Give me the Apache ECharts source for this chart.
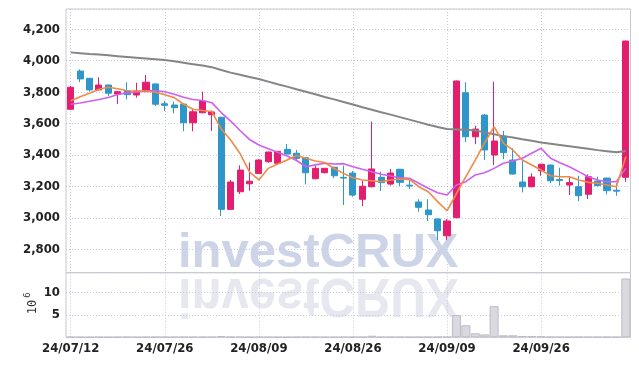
<!DOCTYPE html>
<html><head><meta charset="utf-8">
<script src="https://cdn.jsdelivr.net/npm/echarts@6/dist/echarts.min.js"></script>
<style>html,body{margin:0;padding:0;background:#fff}#c{width:639px;height:366px}</style>
</head><body><div id="c"></div>
<script>
const dates = ['24/07/12','24/07/15','24/07/16','24/07/17','24/07/18','24/07/19','24/07/22','24/07/23','24/07/24','24/07/25',
'24/07/26','24/07/29','24/07/30','24/07/31','24/08/01','24/08/02','24/08/05','24/08/06','24/08/07','24/08/08',
'24/08/09','24/08/12','24/08/13','24/08/14','24/08/16','24/08/19','24/08/20','24/08/21','24/08/22','24/08/23',
'24/08/26','24/08/27','24/08/28','24/08/29','24/08/30','24/09/02','24/09/03','24/09/04','24/09/05','24/09/06',
'24/09/09','24/09/10','24/09/11','24/09/12','24/09/13','24/09/19','24/09/20','24/09/23','24/09/24','24/09/25',
'24/09/26','24/09/27','24/09/30','24/10/02','24/10/04','24/10/07','24/10/08','24/10/10','24/10/11','24/10/14'];
const opens  = [3691,3934,3888,3814,3845,3788,3809,3782,3803,3852,3726,3718,3724,3605,3669,3656,3640,3054,3166,3217,
3283,3357,3347,3436,3411,3383,3249,3287,3322,3257,3285,3118,3198,3258,3215,3309,3208,3101,3050,2993,
2886,3001,3796,3516,3654,3400,3521,3368,3228,3198,3300,3336,3244,3209,3198,3150,3234,3253,3176,3258];
const closes = [3831,3884,3814,3845,3793,3803,3784,3807,3863,3723,3716,3701,3605,3675,3744,3674,3054,3228,3304,3233,
3368,3419,3423,3406,3379,3287,3315,3315,3268,3253,3145,3201,3311,3224,3285,3226,3203,3067,3020,2918,
2980,3871,3516,3565,3432,3489,3415,3279,3198,3260,3341,3236,3238,3224,3141,3262,3205,3173,3170,4125];
const lows   = [3688,3863,3803,3812,3775,3724,3754,3765,3800,3712,3680,3665,3551,3551,3666,3553,3012,3052,3152,3173,
3280,3351,3345,3404,3368,3213,3245,3284,3252,3082,3134,3075,3194,3171,3205,3203,3184,3039,2980,2859,
2859,2998,3481,3470,3368,3336,3374,3275,3162,3195,3268,3220,3205,3145,3107,3120,3200,3150,3141,3230];
const highs  = [3839,3945,3890,3894,3847,3806,3863,3860,3909,3855,3745,3739,3727,3691,3803,3682,3643,3241,3334,3353,
3372,3422,3426,3470,3432,3388,3330,3318,3325,3332,3298,3236,3612,3294,3311,3312,3252,3118,3118,2996,
2993,3874,3863,3586,3661,3866,3553,3443,3368,3283,3344,3339,3319,3262,3268,3277,3262,3256,3220,4128];
const volumes = [0.06,0.05,0.05,0.06,0.05,0.05,0.06,0.05,0.06,0.07,0.06,0.06,0.08,0.07,0.06,0.07,0.25,0.1,0.08,0.07,
0.06,0.06,0.05,0.05,0.06,0.07,0.06,0.05,0.05,0.06,0.07,0.06,0.35,0.08,0.06,0.06,0.05,0.07,0.08,0.1,
0.1,5.0,2.7,0.9,0.65,7.0,0.45,0.45,0.3,0.3,0.25,0.1,0.08,0.07,0.08,0.07,0.06,0.07,0.06,13.2];
const ma5 = [3745,3771,3793,3818,3831,3822,3809,3807,3807,3799,3784,3765,3723,3691,3683,3677,3565,3495,3409,3292,
3241,3315,3343,3368,3397,3379,3362,3352,3314,3283,3255,3241,3236,3230,3241,3247,3245,3198,3166,3103,
3045,3155,3262,3368,3478,3580,3474,3432,3368,3336,3304,3268,3262,3262,3241,3226,3220,3209,3198,3389];
const ma10 = [3723,3731,3742,3753,3766,3785,3794,3801,3807,3810,3802,3786,3767,3753,3747,3733,3670,3616,3556,3499,
3464,3440,3417,3393,3365,3325,3337,3347,3343,3345,3325,3309,3294,3277,3266,3255,3252,3220,3188,3160,
3145,3209,3230,3273,3287,3315,3347,3362,3379,3411,3443,3379,3351,3325,3294,3262,3241,3230,3230,3315];
const maLong = [4053,4048,4043,4039,4034,4029,4024,4019,4014,4009,4004,3996,3987,3978,3969,3959,3941,3924,3910,3896,
3884,3867,3850,3835,3818,3802,3786,3769,3754,3737,3721,3704,3688,3672,3657,3641,3625,3609,3593,3578,
3565,3563,3561,3556,3544,3532,3520,3511,3500,3490,3480,3472,3464,3456,3448,3440,3431,3424,3417,3425];
const volumeUnit = ['10', '6'];
const watermark = 'investCRUX';

const candleData = opens.map((o, i) => [o, closes[i], lows[i], highs[i]]);

const FONT = '"DejaVu Sans Condensed", "DejaVu Sans", sans-serif';
const gridLine = { show: true, lineStyle: { color: '#c6cadf', width: 1, type: [1, 2] } };
const labelStyle = { color: '#222', fontFamily: FONT, fontSize: 13, fontWeight: 'bold' };
const UP = '#e31e6e', DOWN = '#2e96c9';

const chart = echarts.init(document.getElementById('c'), null, { renderer: 'canvas' });
chart.setOption({
  animation: false,
  backgroundColor: '#fff',
  grid: [
    { left: 66, right: 8.5, top: 9, height: 263.7, show: true, borderColor: '#c8c8ce', borderWidth: 1 },
    { left: 66, right: 8.5, top: 272.7, height: 64.6, show: true, borderColor: '#c8c8ce', borderWidth: 1 }
  ],
  xAxis: [
    { type: 'category', gridIndex: 0, data: dates, boundaryGap: true,
      axisLine: { show: false }, axisTick: { show: false }, axisLabel: { show: false },
      splitLine: Object.assign({ interval: 9, alignWithLabel: true }, gridLine) },
    { type: 'category', gridIndex: 1, data: dates, boundaryGap: true,
      axisLine: { show: false }, axisTick: { show: false },
      axisLabel: Object.assign({ interval: 9, margin: 5 }, labelStyle),
      splitLine: Object.assign({ interval: 9, alignWithLabel: true }, gridLine) }
  ],
  yAxis: [
    { type: 'value', gridIndex: 0, min: 2651, max: 4329, splitNumber: 8, minInterval: 200, maxInterval: 200,
      axisLine: { show: false }, axisTick: { show: false },
      axisLabel: Object.assign({ showMinLabel: false, showMaxLabel: false, margin: 6,
        formatter: v => v.toLocaleString('en-US') }, labelStyle),
      splitLine: gridLine },
    { type: 'value', gridIndex: 1, min: 0, max: 14.5, interval: 5,
      axisLine: { show: false }, axisTick: { show: false },
      axisLabel: Object.assign({ showMinLabel: false, showMaxLabel: false, margin: 6 }, labelStyle),
      splitLine: gridLine }
  ],
  graphic: [
    { type: 'text', x: 178, y: 272, z: -5, silent: true,
      style: { text: watermark, x: 0, y: -18.5, textVerticalAlign: 'middle', textAlign: 'left',
        font: 'bold 49px "Liberation Sans", Arial, sans-serif', fill: '#cdd4e8' } },
    { type: 'text', x: 178, y: 272.8, scaleY: -1.15, z: -5, silent: true,
      style: { text: watermark, x: 0, y: -18.5, textVerticalAlign: 'middle', textAlign: 'left',
        font: 'bold 49px "Liberation Sans", Arial, sans-serif', fill: '#e6e7ef' } },
    { type: 'text', x: 32.5, y: 307, rotation: Math.PI / 2, silent: true,
      style: { text: volumeUnit[0], x: 0, y: 0, textAlign: 'center', textVerticalAlign: 'middle',
        font: '12px "DejaVu Sans Mono", monospace', fill: '#333' } },
    { type: 'text', x: 27.5, y: 295, rotation: Math.PI / 2, silent: true,
      style: { text: volumeUnit[1], x: 0, y: 0, textAlign: 'center', textVerticalAlign: 'middle',
        font: '9px "DejaVu Sans Mono", monospace', fill: '#333' } }
  ],
  series: [
    { type: 'candlestick', xAxisIndex: 0, yAxisIndex: 0, data: candleData, barWidth: '70%', z: 3,
      itemStyle: { color: UP, color0: DOWN, borderColor: UP, borderColor0: DOWN, borderWidth: 1 } },
    { type: 'line', xAxisIndex: 0, yAxisIndex: 0, data: maLong, symbol: 'none', z: 4,
      lineStyle: { color: '#858585', width: 2 } },
    { type: 'line', xAxisIndex: 0, yAxisIndex: 0, data: ma10, symbol: 'none', z: 4,
      lineStyle: { color: '#cf5ff0', width: 1.6 } },
    { type: 'line', xAxisIndex: 0, yAxisIndex: 0, data: ma5, symbol: 'none', z: 5,
      lineStyle: { color: '#ef8a47', width: 1.6 } },
    { type: 'bar', xAxisIndex: 1, yAxisIndex: 1, data: volumes, barWidth: '96%',
      itemStyle: { color: '#d9d9df', borderColor: '#bcbcc8', borderWidth: 1 } }
  ]
});
</script></body></html>
